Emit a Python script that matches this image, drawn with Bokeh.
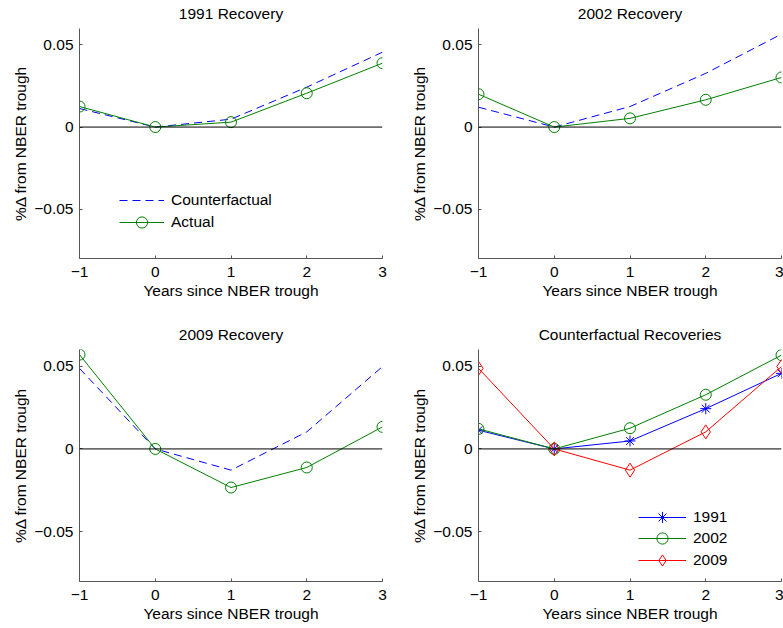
from bokeh.plotting import figure
from bokeh.layouts import column, row
from bokeh.models import Range1d, Span, Legend, LegendItem, FixedTicker
from bokeh.embed import file_html
from bokeh.resources import INLINE

# Years relative to the NBER trough
years = [-1, 0, 1, 2, 3]

# Percent change from the trough (fractions)
cf_1991 = [0.0113, 0.0, 0.0048, 0.0243, 0.0456]
act_1991 = [0.0125, 0.0, 0.0030, 0.0206, 0.0389]

cf_2002 = [0.0121, 0.0, 0.0125, 0.0327, 0.0566]
act_2002 = [0.0200, 0.0, 0.0053, 0.0166, 0.0302]

cf_2009 = [0.0486, 0.0, -0.0128, 0.0103, 0.0497]
act_2009 = [0.0569, 0.0, -0.0233, -0.0112, 0.0133]

x_ticks = [-1, 0, 1, 2, 3]
x_tick_labels = {-1: "\u22121", 0: "0", 1: "1", 2: "2", 3: "3"}
y_ticks = [-0.05, 0, 0.05]
y_tick_labels = {-0.05: "\u22120.05", 0: "0", 0.05: "0.05"}

FONT = "Liberation Sans"
FS = "15.5px"
BLUE = "#0000ff"
GREEN = "#008000"
RED = "#ff0000"
AXIS = "#555555"


def make_panel(title, width, height, left, right, top, bottom):
    p = figure(width=width, height=height, output_backend="svg",
               toolbar_location=None, min_border_left=left,
               min_border_right=right, min_border_top=top,
               min_border_bottom=bottom,
               x_range=Range1d(-1, 3), y_range=Range1d(-0.08, 0.06))
    p.title.text = title
    p.title.align = "center"
    p.title.vertical_align = "top"
    p.title.text_font = FONT
    p.title.text_font_size = FS
    p.title.text_font_style = "normal"
    p.title.text_color = "black"
    p.title.standoff = 9
    p.outline_line_color = None
    p.grid.visible = False
    p.background_fill_color = "white"
    p.border_fill_color = "white"

    p.xaxis.ticker = FixedTicker(ticks=x_ticks)
    p.xaxis.major_label_overrides = x_tick_labels
    p.yaxis.ticker = FixedTicker(ticks=y_ticks)
    p.yaxis.major_label_overrides = y_tick_labels
    p.xaxis.axis_label = "Years since NBER trough"
    p.yaxis.axis_label = "%\u0394 from NBER trough"
    for ax in (p.xaxis, p.yaxis):
        ax.axis_line_color = AXIS
        ax.axis_line_width = 1
        ax.major_tick_line_color = AXIS
        ax.major_tick_in = 3
        ax.major_tick_out = 0
        ax.minor_tick_line_color = None
        ax.major_label_text_font = FONT
        ax.major_label_text_font_size = FS
        ax.major_label_text_color = "black"
        ax.axis_label_text_font = FONT
        ax.axis_label_text_font_size = FS
        ax.axis_label_text_font_style = "normal"
        ax.axis_label_text_color = "black"
    p.xaxis.major_label_standoff = 8
    p.xaxis.axis_label_standoff = 2
    p.yaxis.major_label_standoff = 6
    p.yaxis.axis_label_standoff = 2

    p.add_layout(Span(location=0, dimension="width", line_color="black",
                      line_width=1))
    return p


def cf_actual(p, cf, act):
    cf_r = p.line(years, cf, line_color=BLUE, line_width=1, line_dash="8 5")
    act_l = p.line(years, act, line_color=GREEN, line_width=1)
    act_s = p.scatter(years, act, marker="circle", size=11,
                      line_color=GREEN, fill_color=None, line_width=1)
    return cf_r, act_l, act_s


def legend_row(p, label, renderers, loc, glyph_width):
    # one legend per entry: tall glyph boxes keep the markers full size
    # while rows stay close together
    p.add_layout(Legend(items=[LegendItem(label=label, renderers=renderers)],
                        location=loc, border_line_color=None,
                        background_fill_alpha=0, padding=0, spacing=0,
                        glyph_width=glyph_width, glyph_height=28,
                        label_standoff=7, label_height=20,
                        label_text_font=FONT, label_text_font_size=FS,
                        label_text_color="black"))


p1 = make_panel("1991 Recovery", 392, 310, 79, 10, 27, 52)
r1 = cf_actual(p1, cf_1991, act_1991)
legend_row(p1, "Counterfactual", [r1[0]], (40, 44), 45)
legend_row(p1, "Actual", [r1[1], r1[2]], (40, 22), 45)

p2 = make_panel("2002 Recovery", 391, 310, 86, 2, 27, 52)
cf_actual(p2, cf_2002, act_2002)

p3 = make_panel("2009 Recovery", 392, 318, 79, 10, 39, 47)
cf_actual(p3, cf_2009, act_2009)

p4 = make_panel("Counterfactual Recoveries", 391, 318, 86, 2, 39, 47)
l91 = p4.line(years, cf_1991, line_color=BLUE, line_width=1)
s91 = p4.scatter(years, cf_1991, marker="asterisk", size=11,
                 line_color=BLUE, line_width=1)
l02 = p4.line(years, cf_2002, line_color=GREEN, line_width=1)
s02 = p4.scatter(years, cf_2002, marker="circle", size=11,
                 line_color=GREEN, fill_color=None, line_width=1)
l09 = p4.line(years, cf_2009, line_color=RED, line_width=1)
s09 = p4.scatter(years, cf_2009, marker="diamond", size=14,
                 line_color=RED, fill_color=None, line_width=1)
legend_row(p4, "1991", [l91, s91], (160, 50), 48)
legend_row(p4, "2002", [l02, s02], (160, 29), 48)
legend_row(p4, "2009", [l09, s09], (160, 7), 48)

layout = column(row(p1, p2), row(p3, p4))

with open("out.html", "w") as f:
    f.write(file_html(layout, INLINE))
